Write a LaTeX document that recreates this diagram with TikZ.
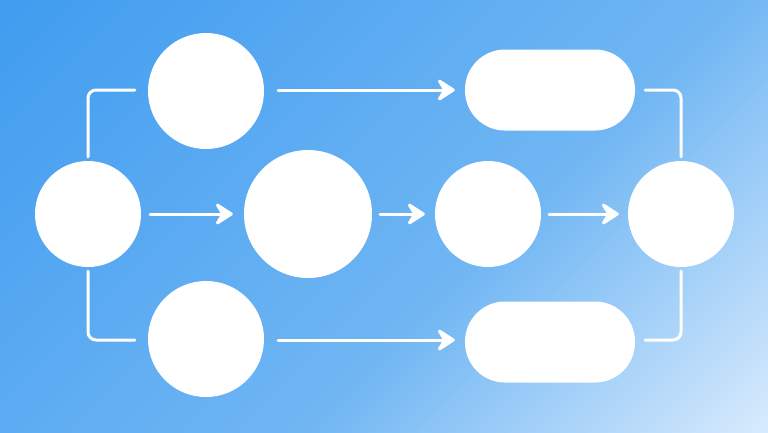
\documentclass[tikz,border=0pt]{standalone}
\usetikzlibrary{arrows.meta}
\definecolor{bgA}{RGB}{66,157,240}
\definecolor{bgB}{RGB}{112,182,243}
\definecolor{bgC}{RGB}{218,236,253}
\pgfdeclarehorizontalshading{bgshade}{100bp}{color(0bp)=(bgA); color(16bp)=(bgA); color(58bp)=(bgB); color(86bp)=(bgC); color(100bp)=(bgC)}
\tikzset{
  disc/.style={circle, fill=white, draw=none, inner sep=0pt, minimum size=#1},
  pill/.style={rectangle, rounded corners=40pt, fill=white, draw=none, inner sep=0pt, minimum width=170pt, minimum height=81pt},
  conn/.style={draw=white, line width=3pt, line cap=round, rounded corners=8pt},
  arr/.style={draw=white, line width=3pt, line cap=round, -{Stealth[length=21pt,width=27pt,inset=8pt,round]}},
}
\begin{document}
\begin{tikzpicture}[x=1pt,y=-1pt]
\shade[shading=bgshade, shading angle=-45] (0,0) rectangle (768,432);
\useasboundingbox (0,0) rectangle (768,432);
\node[disc=106pt] (left) at (88,214) {};
\node[disc=116pt] (top) at (206,91) {};
\node[disc=116pt] (bot) at (206,339) {};
\node[disc=128pt] (mid) at (308,214) {};
\node[disc=106pt] (mr) at (488,214) {};
\node[disc=106pt] (right) at (681,214) {};
\node[pill] (trect) at (550,90) {};
\node[pill] (brect) at (550,342) {};
% brackets
\draw[conn] ([yshift=4pt]left.north) |- ([xshift=-13pt,yshift=1pt]top.west);
\draw[conn] ([yshift=-4pt]left.south) |- ([xshift=-13pt,yshift=-1pt]bot.west);
\draw[conn] ([xshift=10pt]trect.east) -| ([yshift=4pt]right.north);
\draw[conn] ([xshift=10pt,yshift=2pt]brect.east) -| ([yshift=-4pt]right.south);
% arrows
\draw[arr, shorten <=14pt, shorten >=10pt] ([yshift=1pt]top.east) -- (trect.west);
\draw[arr, shorten <=14pt, shorten >=10pt] ([yshift=-1pt]bot.east) -- ([yshift=2pt]brect.west);
\draw[arr, shorten <=9pt, shorten >=11pt] (left) -- (mid);
\draw[arr, shorten <=8pt, shorten >=10pt] (mid) -- (mr);
\draw[arr, shorten <=8pt, shorten >=9pt] (mr) -- (right);
\end{tikzpicture}
\end{document}
